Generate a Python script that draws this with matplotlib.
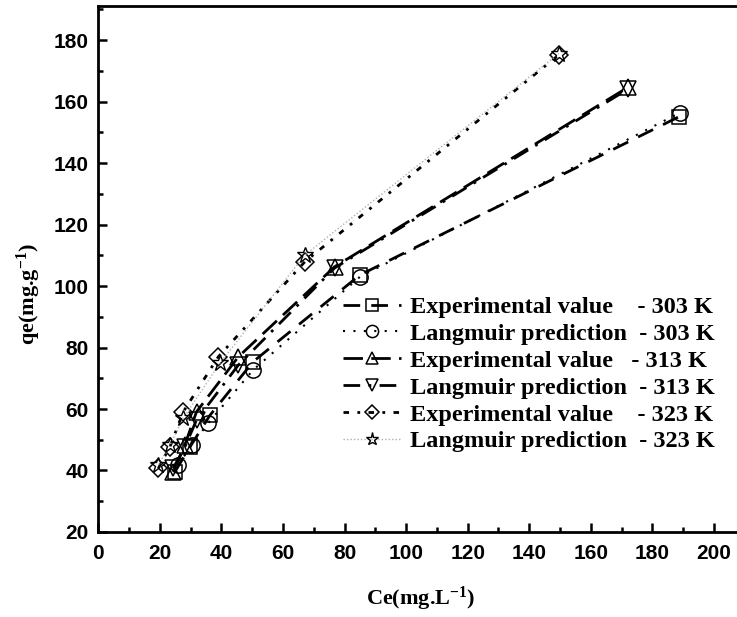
import matplotlib
matplotlib.use("Agg")
import matplotlib.pyplot as plt
from matplotlib.ticker import MultipleLocator

plt.rcParams["mathtext.fontset"] = "custom"
plt.rcParams["mathtext.rm"] = "Liberation Serif:bold"
plt.rcParams["mathtext.bf"] = "Liberation Serif:bold"
plt.rcParams["mathtext.default"] = "bf"

# Equilibrium concentration Ce (mg/L) and uptake qe (mg/g)
ce_303_exp = [24.9, 29.8, 36.3, 50.3, 85.0, 188.5]
qe_303_exp = [39.6, 47.7, 58.0, 75.4, 103.6, 155.0]
ce_303_lng = [26.0, 30.3, 35.7, 50.3, 85.0, 189.0]
qe_303_lng = [41.8, 48.3, 55.4, 72.7, 103.0, 156.4]

ce_313_exp = [24.4, 28.1, 31.9, 45.5, 76.8, 172.0]
qe_313_exp = [39.6, 48.3, 59.1, 77.0, 106.3, 164.6]
ce_313_lng = [24.3, 28.1, 31.9, 45.5, 76.8, 172.0]
qe_313_lng = [40.7, 47.6, 56.4, 74.3, 105.9, 164.0]

ce_323_exp = [19.5, 23.3, 27.6, 39.0, 67.1, 149.6]
qe_323_exp = [40.7, 47.8, 59.1, 77.0, 107.9, 175.2]
ce_323_lng = [19.5, 23.3, 27.6, 39.5, 67.1, 149.6]
qe_323_lng = [41.8, 48.3, 57.0, 74.9, 110.1, 175.6]

labels = [
    "Experimental value    - 303 K",
    "Langmuir prediction  - 303 K",
    "Experimental value   - 313 K",
    "Langmuir prediction  - 313 K",
    "Experimental value    - 323 K",
    "Langmuir prediction  - 323 K",
]

fig = plt.figure(figsize=(7.37, 6.17), dpi=100)
ax = fig.add_axes([0.1334, 0.1378, 0.8666, 0.852])

mk = dict(markerfacecolor="none", markeredgecolor="black", markeredgewidth=1.1, color="black")

ax.plot(ce_303_exp, qe_303_exp, marker="s", markersize=10, linestyle=(0, (6, 4)), lw=2.0, label=labels[0], **mk)
ax.plot(ce_303_lng, qe_303_lng, marker="o", markersize=11, linestyle=(0, (1, 4)), lw=1.5, label=labels[1], **mk)
ax.plot(ce_313_exp, qe_313_exp, marker="^", markersize=11, linestyle=(0, (7, 3)), lw=2.0, label=labels[2], **mk)
ax.plot(ce_313_lng, qe_313_lng, marker="v", markersize=11, linestyle=(0, (6, 3, 1, 3)), lw=2.0, label=labels[3], **mk)
ax.plot(ce_323_exp, qe_323_exp, marker="D", markersize=9, linestyle=(0, (2, 3, 1, 3)), lw=2.0, label=labels[4], **mk)
ax.plot(ce_323_lng, qe_323_lng, marker="*", markersize=12, linestyle=(0, (1, 1.5)),
        lw=1.0, color="#b0b0b0", markerfacecolor="none", markeredgecolor="black",
        markeredgewidth=1.0, label=labels[5])

ax.set_xlim(0, 207.5)
ax.set_ylim(20, 191)
ax.xaxis.set_major_locator(MultipleLocator(20))
ax.xaxis.set_minor_locator(MultipleLocator(10))
ax.yaxis.set_major_locator(MultipleLocator(20))
ax.yaxis.set_minor_locator(MultipleLocator(10))
ax.tick_params(which="both", direction="in", width=1.8, top=False, right=False)
ax.tick_params(which="major", length=6.5, labelsize=15)
ax.tick_params(axis="x", which="major", pad=9)
ax.tick_params(axis="y", which="major", pad=7)
ax.tick_params(which="minor", length=3.3)
for lbl in ax.get_xticklabels() + ax.get_yticklabels():
    lbl.set_fontfamily("Liberation Sans")
    lbl.set_fontweight("bold")

ax.spines["right"].set_visible(False)
for s in ("left", "bottom", "top"):
    ax.spines[s].set_linewidth(2.0)

ax.set_xlabel("Ce(mg.L$^{-1}$)", fontfamily="Liberation Serif", fontweight="bold",
              fontsize=16)
ax.xaxis.set_label_coords(0.505, -0.1)
ax.set_ylabel("qe(mg.g$^{-1}$)", fontfamily="Liberation Serif", fontweight="bold",
              fontsize=16)
ax.yaxis.set_label_coords(-0.086, 0.452)

leg = ax.legend(loc="upper left", bbox_to_anchor=(0.364, 0.472), frameon=False,
                prop={"family": "Liberation Serif", "weight": "bold", "size": 17.5},
                handlelength=2.4, handletextpad=0.35, labelspacing=0.2, borderpad=0,
                markerscale=0.8)

fig.savefig("out.png", dpi=100)
